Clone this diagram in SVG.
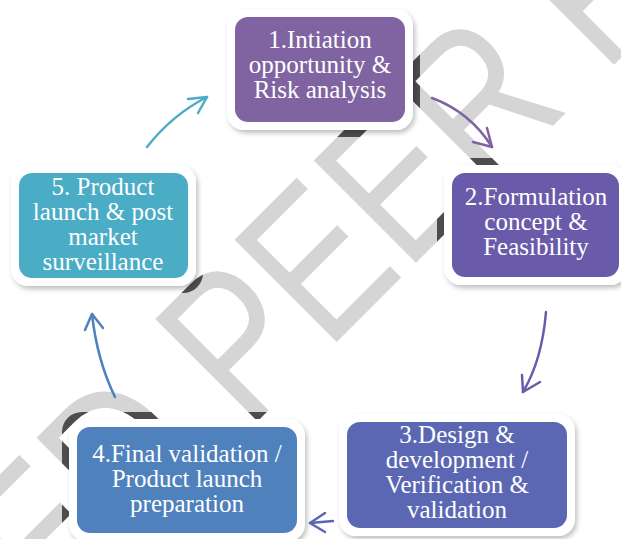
<svg xmlns="http://www.w3.org/2000/svg" width="621" height="539" viewBox="0 0 621 539">
  <defs>
    <style>
      .wm { font-family: "Liberation Sans", Arial, sans-serif; font-size: 210px; }
      .frame { fill: #ffffff; filter: url(#shadow); }
      .lbl { font-family: "Liberation Serif", "Times New Roman", serif; font-size: 25px; fill: #ffffff; text-anchor: middle; }
      .arr { fill: none; stroke-width: 2.5; stroke-linecap: round; stroke-linejoin: round; }
    </style>
    <filter id="shadow" x="-10%" y="-10%" width="125%" height="130%">
      <feDropShadow dx="2" dy="3" stdDeviation="2.5" flood-color="#000000" flood-opacity="0.25"/>
    </filter>
    <!-- halo around each frame where the watermark shows darker -->
    <clipPath id="halo">
      <rect x="220" y="2" width="200" height="135" rx="20"/>
      <rect x="437" y="158" width="197" height="135" rx="20"/>
      <rect x="4" y="158" width="199" height="135" rx="20"/>
      <rect x="332" y="407" width="250" height="136" rx="20"/>
      <rect x="62" y="412" width="250" height="136" rx="20"/>
    </clipPath>
    <text id="wmText" class="wm" transform="translate(49.7,629) rotate(-45) scale(0.8,1)">ED PEER REV</text>
  </defs>

  <rect width="621" height="539" fill="#ffffff"/>

  <!-- watermark -->
  <g id="watermark">
    <use href="#wmText" fill="#d5d5d5"/>
    <use href="#wmText" fill="#4d4d4d" clip-path="url(#halo)"/>
  </g>

  <!-- connectors -->
  <g id="connectors">
    <g stroke="#8064A2" class="arr">
      <path d="M432,98 Q470,112 492,147"/>
      <path d="M473,142 L492,147 L487,128"/>
    </g>
    <g stroke="#6A5BAA" class="arr">
      <path d="M546,312 Q542,360 523,392"/>
      <path d="M522,375 L523,392 L540,382"/>
    </g>
    <g stroke="#5B67B3" class="arr">
      <path d="M333,521 Q322,522 310,523"/>
      <path d="M325,513 L310,523 L325,532"/>
    </g>
    <g stroke="#4F81BD" class="arr">
      <path d="M115,397 Q97,360 92,314"/>
      <path d="M85,330 L92,314 L103,328"/>
    </g>
    <g stroke="#4BACC6" class="arr">
      <path d="M147,147 Q172,115 207,97"/>
      <path d="M188,99 L207,97 L198,113"/>
    </g>
  </g>

  <!-- nodes -->
  <g id="node1">
    <rect class="frame" x="227" y="9" width="186" height="121" rx="17"/>
    <rect x="235" y="17" width="170" height="105" rx="13" fill="#8064A2"/>
    <text class="lbl"><tspan x="320" y="48">1.Intiation</tspan><tspan x="320" y="73">opportunity &amp;</tspan><tspan x="320" y="98">Risk analysis</tspan></text>
  </g>

  <g id="node2">
    <rect class="frame" x="444" y="165" width="183" height="120" rx="17"/>
    <rect x="452" y="173" width="167" height="104" rx="13" fill="#6A5BAA"/>
    <text class="lbl"><tspan x="536" y="205">2.Formulation</tspan><tspan x="536" y="230">concept &amp;</tspan><tspan x="536" y="255">Feasibility</tspan></text>
  </g>

  <g id="node3">
    <rect class="frame" x="339" y="414" width="236" height="122" rx="17"/>
    <rect x="347" y="422" width="220" height="106" rx="13" fill="#5B67B3"/>
    <text class="lbl"><tspan x="457" y="443">3.Design &amp;</tspan><tspan x="457" y="468">development /</tspan><tspan x="457" y="493">Verification &amp;</tspan><tspan x="457" y="518">validation</tspan></text>
  </g>

  <g id="node4">
    <rect class="frame" x="69" y="419" width="236" height="122" rx="17"/>
    <rect x="77" y="427" width="220" height="106" rx="13" fill="#4F81BD"/>
    <text class="lbl"><tspan x="187" y="462">4.Final validation /</tspan><tspan x="187" y="487">Product launch</tspan><tspan x="187" y="512">preparation</tspan></text>
  </g>

  <g id="node5">
    <rect class="frame" x="11" y="165" width="185" height="121" rx="17"/>
    <rect x="19" y="173" width="169" height="105" rx="13" fill="#4BACC6"/>
    <text class="lbl"><tspan x="103" y="195">5. Product</tspan><tspan x="103" y="220">launch &amp; post</tspan><tspan x="103" y="245">market</tspan><tspan x="103" y="270">surveillance</tspan></text>
  </g>
</svg>
